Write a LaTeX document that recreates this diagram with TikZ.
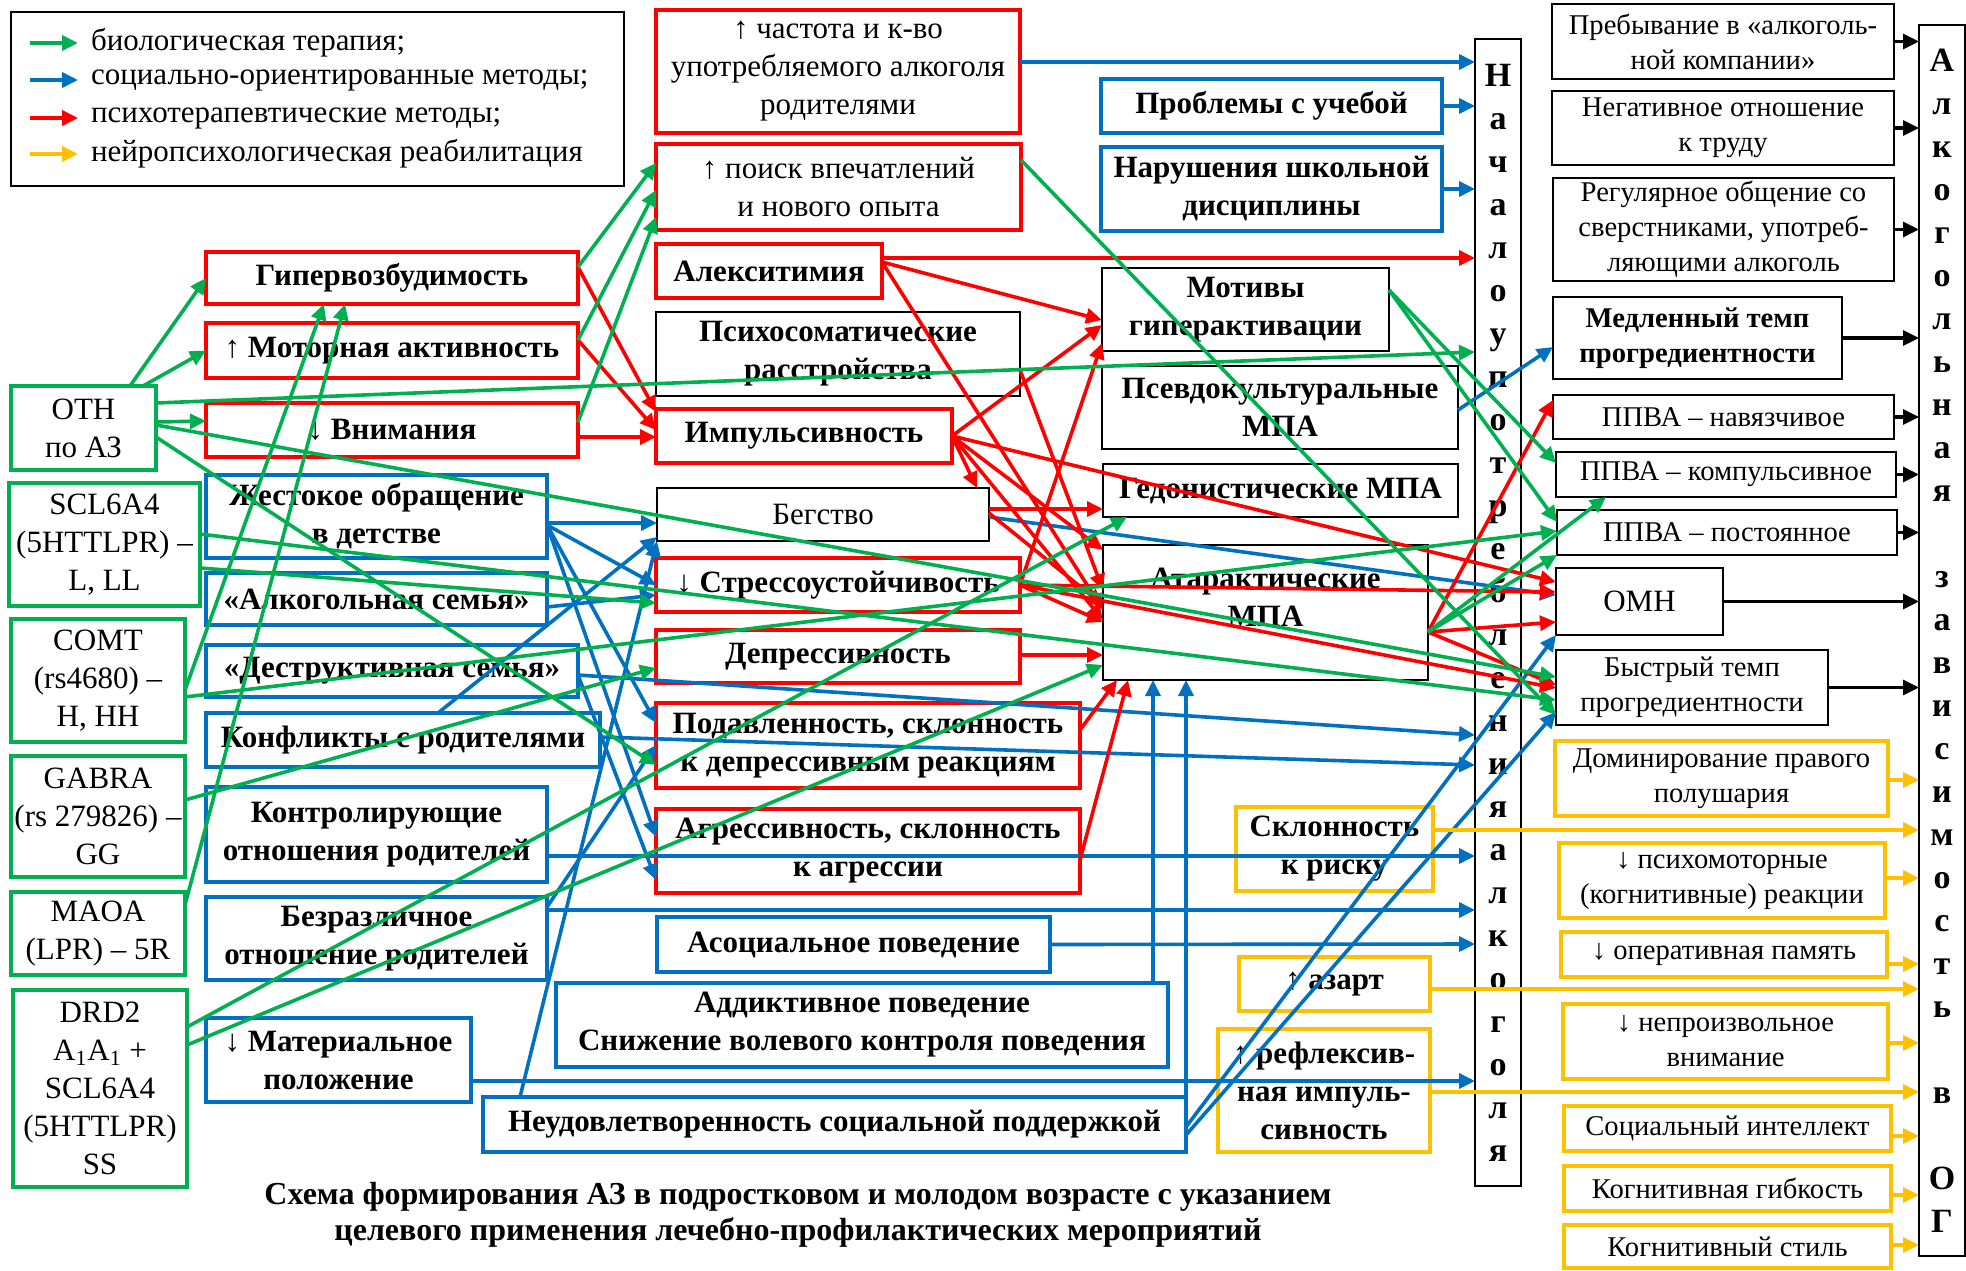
\documentclass[tikz,border=0pt]{standalone}
\usepackage{fontspec}
\setmainfont{Liberation Serif}
\usetikzlibrary{arrows.meta,positioning}

\definecolor{myred}{HTML}{FF0000}
\definecolor{myblue}{HTML}{0070C0}
\definecolor{mygreen}{HTML}{00B050}
\definecolor{myyellow}{HTML}{FFC000}

\newcommand{\txtfnt}{\fontsize{15.5}{19}\selectfont}
\newcommand{\boldfnt}{\fontsize{15.5}{19}\selectfont\bfseries}
\newcommand{\capfnt}{\fontsize{16}{18}\selectfont\bfseries}
\newcommand{\rightfnt}{\fontsize{14.3}{17.5}\selectfont}
\newcommand{\colfnt}{\fontsize{17}{21.5}\selectfont\bfseries}

\tikzset{
  box/.style={rectangle, outer sep=0pt, inner sep=1pt, align=center},
  wh/.style 2 args={minimum width=#1pt, minimum height=#2pt},
  redbox/.style={box, draw=myred, line width=1.9pt, font=\boldfnt},
  bluebox/.style={box, draw=myblue, line width=1.8pt, font=\boldfnt},
  greenbox/.style={box, draw=mygreen, line width=1.8pt, font=\txtfnt},
  yelbox/.style={box, draw=myyellow, line width=1.8pt, font=\boldfnt},
  yelright/.style={box, draw=myyellow, line width=1.8pt, font=\rightfnt},
  blkbox/.style={box, draw=black, line width=1pt, font=\boldfnt},
  blkright/.style={box, draw=black, line width=1pt, font=\rightfnt},
  colbox/.style={box, draw=black, line width=0.9pt, font=\colfnt},
  tip/.style={-{Triangle[length=8pt,width=7.5pt]}},
  garr/.style={tip, draw=mygreen, line width=1.8pt},
  barr/.style={tip, draw=myblue, line width=1.8pt},
  rarr/.style={tip, draw=myred, line width=1.8pt},
  yarr/.style={tip, draw=myyellow, line width=1.8pt},
  karr/.style={tip, draw=black, line width=1.6pt}
}

\begin{document}
\begin{tikzpicture}[x=0.5pt,y=-0.5pt]
\useasboundingbox (0,0) rectangle (1966,1270);

% legend
\node[blkright, wh={306.5}{87}] (legend) at (317.5,99) {};
\node[anchor=west, font=\txtfnt] (lg1) at (84,43) {биологическая терапия;};
\node[anchor=west, font=\txtfnt] (lg2) at (84,80) {социально-ориентированные методы;};
\node[anchor=west, font=\txtfnt] (lg3) at (84,118) {психотерапевтические методы;};
\node[anchor=west, font=\txtfnt] (lg4) at (84,154) {нейропсихологическая реабилитация};
\draw[garr] ([shift={(-54,0)}]lg1.west) -- ([shift={(-6,0)}]lg1.west);
\draw[barr] ([shift={(-54,0)}]lg2.west) -- ([shift={(-6,0)}]lg2.west);
\draw[rarr] ([shift={(-54,0)}]lg3.west) -- ([shift={(-6,0)}]lg3.west);
\draw[yarr] ([shift={(-54,0)}]lg4.west) -- ([shift={(-6,0)}]lg4.west);

% genetics
\node[greenbox, wh={72.5}{42}] (oth) at (83.5,428) {ОТН\\по АЗ};
\node[greenbox, wh={95.5}{61.5}] (scl) at (104.5,544.5) {SCL6A4\\(5HTTLPR) –\\L, LL};
\node[greenbox, wh={87}{61.5}] (comt) at (98,680.5) {COMT\\(rs4680) –\\H, HH};
\node[greenbox, wh={87}{60.5}] (gabra) at (98,816.5) {GABRA\\(rs 279826) –\\GG};
\node[greenbox, wh={87}{41.5}] (maoa) at (98,933.5) {MAOA\\(LPR) – 5R};
\node[greenbox, wh={87}{98.5}] (drd) at (100,1088.5) {DRD2\\A\textsubscript{1}A\textsubscript{1} +\\SCL6A4\\(5HTTLPR)\\SS};

% left column
\node[redbox, wh={186}{26}] (hyper) at (392,278) {Гипервозбудимость};
\node[redbox, wh={186}{27.5}] (motor) at (392,350.5) {↑ Моторная активность};
\node[redbox, wh={186}{27}] (attn) at (392,430) {↓ Внимания};
\node[bluebox, wh={170.5}{41.5}] (abuse) at (376.5,516.5) {Жестокое обращение\\в детстве};
\node[bluebox, wh={170.5}{26}] (alcfam) at (376.5,599) {«Алкогольная семья»};
\node[bluebox, wh={186}{26}] (destr) at (392,671) {«Деструктивная семья»};
\node[bluebox, wh={197}{27}] (confl) at (403,740) {Конфликты с родителями};
\node[bluebox, wh={170.5}{47.5}] (control) at (376.5,834.5) {Контролирующие\\отношения родителей};
\node[bluebox, wh={170.5}{41.5}] (indiff) at (376.5,938.5) {Безразличное\\отношение родителей};
\node[bluebox, wh={132.5}{42}] (money) at (338.5,1060) {↓ Материальное\\положение};

% middle column
\node[redbox, wh={182}{61.5}, font=\txtfnt] (freq) at (838,71.5) {↑ частота и к-во\\употребляемого алкоголя\\родителями};
\node[redbox, wh={182.5}{43}, font=\txtfnt] (search) at (838.5,187) {↑ поиск впечатлений\\и нового опыта};
\node[redbox, wh={113}{27}] (alex) at (769,271) {Алекситимия};
\node[blkbox, wh={182}{42}] (psycho) at (838,354) {Психосоматические\\расстройства};
\node[redbox, wh={148}{27}] (impuls) at (804,436) {Импульсивность};
\node[blkbox, wh={166}{26.5}, font=\txtfnt] (flight) at (823,514.5) {Бегство};
\node[redbox, wh={182}{27}] (stress) at (838,585) {↓ Стрессоустойчивость};
\node[redbox, wh={182}{26.5}] (depr) at (838,656.5) {Депрессивность};
\node[redbox, wh={212}{42.5}] (supp) at (868,745.5) {Подавленность, склонность\\к депрессивным реакциям};
\node[redbox, wh={212}{42}] (aggr) at (868,851) {Агрессивность, склонность\\к агрессии};
\node[bluebox, wh={196.5}{27.5}] (asoc) at (853.5,944.5) {Асоциальное поведение};
\node[bluebox, wh={306}{42}] (addict) at (862,1025) {Аддиктивное поведение\\Снижение волевого контроля поведения};
\node[bluebox, wh={351.5}{27.5}] (support) at (834.5,1124.5) {Неудовлетворенность социальной поддержкой};

% motives
\node[bluebox, wh={170.5}{27}] (study) at (1271.5,106) {Проблемы с учебой};
\node[bluebox, wh={170.5}{42}] (discip) at (1271.5,189) {Нарушения школьной\\дисциплины};
\node[blkbox, wh={143.5}{41.5}] (motiv) at (1245.5,309.5) {Мотивы\\гиперактивации};
\node[blkbox, wh={178}{41.5}] (pseudo) at (1280,407.5) {Псевдокультуральные\\МПА};
\node[blkbox, wh={177.5}{26.5}] (hedon) at (1280.5,490.5) {Гедонистические МПА};
\node[blkbox, wh={162.5}{67.5},
  label={[font=\boldfnt, align=center, anchor=north, yshift=-8pt]north:{Атарактические\\МПА}}] (atar) at (1265.5,612.5) {};
\node[yelbox, wh={98.5}{42}] (risk) at (1334.5,849) {Склонность\\к риску};
\node[yelbox, wh={95.5}{27}] (gamble) at (1334.5,984) {↑ азарт};
\node[yelbox, wh={106}{61.5}] (reflex) at (1324,1090.5) {↑ рефлексив-\\ная импуль-\\сивность};

% columns
\node[colbox, wh={23}{573.5}] (start) at (1498,612.5)
  {Н\\а\\ч\\а\\л\\о\\у\\п\\о\\т\\р\\е\\б\\л\\е\\н\\и\\я\\а\\л\\к\\о\\г\\о\\л\\я};
\node[colbox, wh={23}{615.5}] (dep) at (1942,640.5)
  {А\\л\\к\\о\\г\\о\\л\\ь\\н\\а\\я\\~\\з\\а\\в\\и\\с\\и\\м\\о\\с\\т\\ь\\~\\в\\~\\О\\Г};

% right column
\node[blkright, wh={171}{37.5}] (stay) at (1723,41.5) {Пребывание в «алкоголь-\\ной компании»};
\node[blkright, wh={171}{37}] (negat) at (1723,128) {Негативное отношение\\к труду};
\node[blkright, wh={170.5}{51.5}] (regul) at (1723.5,229.5) {Регулярное общение со\\сверстниками, употреб-\\ляющими алкоголь};
\node[blkright, wh={144.5}{41}, font=\rightfnt\bfseries] (slow) at (1697.5,338) {Медленный темп\\прогредиентности};
\node[blkright, wh={170.5}{22}] (ppva1) at (1723.5,417) {ППВА – навязчивое};
\node[blkright, wh={170}{22.5}] (ppva2) at (1726,474.5) {ППВА – компульсивное};
\node[blkright, wh={170}{22.5}] (ppva3) at (1727,532.5) {ППВА – постоянное};
\node[blkright, wh={83.5}{33.5}, font=\txtfnt] (omn) at (1639.5,601.5) {ОМН};
\node[blkright, wh={136}{37.5}] (fast) at (1692,687.5) {Быстрый темп\\прогредиентности};
\node[yelright, wh={166.5}{37.5}] (domin) at (1721.5,778.5) {Доминирование правого\\полушария};
\node[yelright, wh={163}{37.5}] (psychmot) at (1722,880.5) {↓ психомоторные\\(когнитивные) реакции};
\node[yelright, wh={163}{22.5}] (memory) at (1724,954.5) {↓ оперативная память};
\node[yelright, wh={162.5}{37.5}] (involunt) at (1725.5,1041.5) {↓ непроизвольное\\внимание};
\node[yelright, wh={163.5}{22.5}] (social) at (1727.5,1128.5) {Социальный интеллект};
\node[yelright, wh={163.5}{22.5}] (flex) at (1727.5,1188.5) {Когнитивная гибкость};
\node[yelright, wh={163.5}{21.5}] (style) at (1727.5,1246.5) {Когнитивный стиль};

\node[font=\capfnt, align=center] (caption) at (798,1215)
  {Схема формирования АЗ в подростковом и молодом возрасте с указанием\\целевого применения лечебно-профилактических мероприятий};

% blue
\draw[barr] ([shift={(0,52)}]freq.north east) -- ([shift={(0,23)}]start.north west);
\draw[barr] (study.east) -- ([shift={(0,67)}]start.north west);
\draw[barr] (discip.east) -- ([shift={(0,150)}]start.north west);
\draw[barr] ([shift={(0,44)}]pseudo.north east) -- ([shift={(0,50)}]slow.north west);
\draw[barr] ([shift={(0,48)}]abuse.north east) -- ([shift={(0,35)}]flight.north west);
\draw[barr] ([shift={(0,50)}]abuse.north east) -- ([shift={(0,27)}]stress.north west);
\draw[barr] ([shift={(0,50)}]abuse.north east) -- ([shift={(0,20)}]supp.north west);
\draw[barr] ([shift={(0,50)}]abuse.north east) -- ([shift={(0,28)}]aggr.north west);
\draw[barr] ([shift={(0,30)}]destr.north east) -- ([shift={(0,71)}]aggr.north west);
\draw[barr] ([shift={(0,34)}]alcfam.north east) -- ([shift={(0,37)}]stress.north west);
\draw[barr] ([shift={(232,0)}]confl.north west) -- ([shift={(0,-4)}]flight.south west);
\draw[barr] ([shift={(0,10)}]indiff.north east) -- ([shift={(0,42)}]supp.north west);
\draw[barr] ([shift={(37,0)}]support.north west) -- (flight.south west);
\draw[barr] ([shift={(0,69)}]control.north east) -- ([shift={(0,817)}]start.north west);
\draw[barr] ([shift={(0,13)}]indiff.north east) -- ([shift={(0,871)}]start.north west);
\draw[barr] (asoc.east) -- ([shift={(0,905)}]start.north west);
\draw[barr] ([shift={(0,63)}]money.north east) -- ([shift={(0,1042)}]start.north west);
\draw[barr] ([shift={(0,30)}]destr.north east) -- ([shift={(0,696)}]start.north west);
\draw[barr] ([shift={(0,24)}]confl.north east) -- ([shift={(0,726)}]start.north west);
\draw[barr] ([shift={(0,29)}]flight.north east) -- ([shift={(0,27)}]omn.north west);
\draw[barr] ([shift={(-15,0)}]addict.north east) -- ([shift={(50,0)}]atar.south west);
\draw[barr] (support.north east) -- ([shift={(83,0)}]atar.south west);
\draw[barr] ([shift={(0,30)}]support.north east) -- (omn.south west);
\draw[barr] ([shift={(0,38)}]support.north east) -- ([shift={(0,62)}]fast.north west);

% red
\draw[rarr] ([shift={(0,15)}]hyper.north east) -- ([shift={(0,3)}]impuls.north west);
\draw[rarr] ([shift={(0,17)}]motor.north east) -- ([shift={(0,21)}]impuls.north west);
\draw[rarr] ([shift={(0,34)}]attn.north east) -- ([shift={(0,28)}]impuls.north west);
\draw[rarr] ([shift={(0,14)}]alex.north east) -- ([shift={(0,219)}]start.north west);
\draw[rarr] ([shift={(0,18)}]alex.north east) -- ([shift={(0,52)}]motiv.north west);
\draw[rarr] ([shift={(0,18)}]alex.north east) -- ([shift={(0,65)}]atar.north west);
\draw[rarr] ([shift={(0,27)}]impuls.north east) -- ([shift={(0,57)}]motiv.north west);
\draw[rarr] ([shift={(0,27)}]impuls.north east) -- ([shift={(0,14)}]omn.north west);
\draw[rarr] ([shift={(0,27)}]impuls.north east) -- ([shift={(0,5)}]atar.north west);
\draw[rarr] ([shift={(0,27)}]impuls.north east) -- ([shift={(0,75)}]atar.north west);
\draw[rarr] ([shift={(0,27)}]impuls.north east) -- ([shift={(-12,0)}]flight.north east);
\draw[rarr] ([shift={(0,58)}]psycho.north east) -- ([shift={(0,45)}]atar.north west);
\draw[rarr] ([shift={(0,21)}]flight.north east) -- ([shift={(0,45)}]hedon.north west);
\draw[rarr] ([shift={(0,25)}]flight.north east) -- ([shift={(0,60)}]atar.north west);
\draw[rarr] ([shift={(0,27)}]stress.north east) -- ([shift={(0,75)}]motiv.north west);
\draw[rarr] ([shift={(0,27)}]stress.north east) -- ([shift={(0,24)}]omn.north west);
\draw[rarr] ([shift={(0,27)}]stress.north east) -- ([shift={(0,38)}]fast.north west);
\draw[rarr] ([shift={(0,27)}]stress.north east) -- ([shift={(0,77)}]atar.north west);
\draw[rarr] ([shift={(0,25)}]depr.north east) -- ([shift={(0,110)}]atar.north west);
\draw[rarr] ([shift={(0,27)}]supp.north east) -- ([shift={(14,0)}]atar.south west);
\draw[rarr] ([shift={(0,51)}]aggr.north east) -- ([shift={(25,0)}]atar.south west);
\draw[rarr] ([shift={(0,87)}]atar.north east) -- ([shift={(0,5)}]ppva1.north west);
\draw[rarr] ([shift={(0,87)}]atar.north east) -- ([shift={(0,54)}]omn.north west);
\draw[rarr] ([shift={(0,87)}]atar.north east) -- ([shift={(0,35)}]fast.north west);

% green
\draw[garr] ([shift={(-26,0)}]oth.north east) -- (hyper.west);
\draw[garr] ([shift={(-13,0)}]oth.north east) -- (motor.west);
\draw[garr] ([shift={(0,36)}]oth.north east) -- ([shift={(0,18)}]attn.north west);
\draw[garr] ([shift={(0,17)}]oth.north east) -- ([shift={(0,313)}]start.north west);
\draw[garr] ([shift={(0,39)}]oth.north east) -- ([shift={(0,27)}]fast.north west);
\draw[garr] ([shift={(0,51)}]oth.north east) -- ([shift={(0,62)}]supp.north west);
\draw[garr] ([shift={(0,51)}]scl.north east) -- ([shift={(0,50)}]fast.north west);
\draw[garr] ([shift={(0,85)}]scl.north east) -- ([shift={(0,45)}]stress.north west);
\draw[garr] ([shift={(0,78)}]comt.north east) -- ([shift={(0,21)}]ppva3.north west);
\draw[garr] ([shift={(0,71)}]comt.north east) -- ([shift={(-68,0)}]hyper.south);
\draw[garr] ([shift={(0,13)}]maoa.north east) -- ([shift={(-47,0)}]hyper.south);
\draw[garr] ([shift={(0,44)}]gabra.north east) -- ([shift={(0,38)}]depr.north west);
\draw[garr] ([shift={(0,37)}]drd.north east) -- ([shift={(24,0)}]hedon.south west);
\draw[garr] ([shift={(0,55)}]drd.north east) -- ([shift={(0,120)}]atar.north west);
\draw[garr] ([shift={(0,15)}]hyper.north east) -- ([shift={(0,19)}]search.north west);
\draw[garr] ([shift={(0,17)}]motor.north east) -- ([shift={(0,46)}]search.north west);
\draw[garr] ([shift={(0,19)}]attn.north east) -- ([shift={(0,73)}]search.north west);
\draw[garr] ([shift={(0,16)}]search.north east) -- ([shift={(0,65)}]fast.north west);
\draw[garr] ([shift={(0,22)}]motiv.north east) -- ([shift={(0,11)}]ppva2.north west);
\draw[garr] ([shift={(0,22)}]motiv.north east) -- ([shift={(0,12)}]ppva3.north west);
\draw[garr] ([shift={(0,87)}]atar.north east) -- (ppva3.south west);
\draw[garr] ([shift={(0,87)}]atar.north east) -- ([shift={(50,0)}]ppva2.south west);

% yellow
\draw[yarr] ([shift={(0,23)}]risk.north east) -- ([shift={(0,805)}]dep.north west);
\draw[yarr] ([shift={(0,32)}]gamble.north east) -- ([shift={(0,964)}]dep.north west);
\draw[yarr] ([shift={(0,63)}]reflex.north east) -- ([shift={(0,1067)}]dep.north west);
\draw[yarr] ([shift={(0,39)}]domin.north east) -- ([shift={(0,755)}]dep.north west);
\draw[yarr] ([shift={(0,35)}]psychmot.north east) -- ([shift={(0,853)}]dep.north west);
\draw[yarr] ([shift={(0,32)}]memory.north east) -- ([shift={(0,939)}]dep.north west);
\draw[yarr] ([shift={(0,39)}]involunt.north east) -- ([shift={(0,1018)}]dep.north west);
\draw[yarr] ([shift={(0,30)}]social.north east) -- ([shift={(0,1111)}]dep.north west);
\draw[yarr] ([shift={(0,29)}]flex.north east) -- ([shift={(0,1170)}]dep.north west);
\draw[yarr] ([shift={(0,20)}]style.north east) -- ([shift={(0,1220)}]dep.north west);

% black
\draw[karr] (stay.east) -- (stay.east -| dep.west);
\draw[karr] (negat.east) -- (negat.east -| dep.west);
\draw[karr] (regul.east) -- (regul.east -| dep.west);
\draw[karr] (slow.east) -- (slow.east -| dep.west);
\draw[karr] (ppva1.east) -- (ppva1.east -| dep.west);
\draw[karr] (ppva2.east) -- (ppva2.east -| dep.west);
\draw[karr] (ppva3.east) -- (ppva3.east -| dep.west);
\draw[karr] (omn.east) -- (omn.east -| dep.west);
\draw[karr] (fast.east) -- (fast.east -| dep.west);

\end{tikzpicture}
\end{document}
